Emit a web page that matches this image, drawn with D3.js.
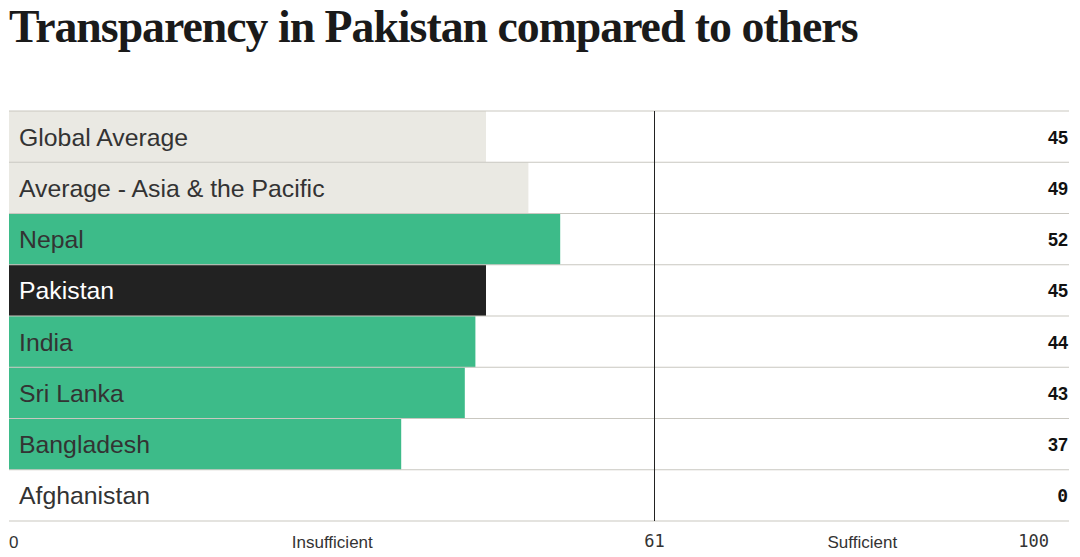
<!DOCTYPE html>
<html>
<head>
<meta charset="utf-8">
<script src="https://cdn.jsdelivr.net/npm/d3@7"></script>
<style>
  html, body { margin: 0; padding: 0; background: #fff; }
  svg { display: block; }
</style>
</head>
<body>
<svg id="chart" width="1080" height="557"></svg>
<script>
const categories = ["Global Average", "Average - Asia & the Pacific", "Nepal", "Pakistan", "India", "Sri Lanka", "Bangladesh", "Afghanistan"];
const values = [45, 49, 52, 45, 44, 43, 37, 0];
const kinds = ["average", "average", "country", "highlight", "country", "country", "country", "country"];
const threshold = 61;
const axisTicks = [0, 61, 100];
const zoneLabels = [{text: "Insufficient", from: 0, to: 61}, {text: "Sufficient", from: 61, to: 100}];
const title = "Transparency in Pakistan compared to others";

const colors = { average: "#eae9e3", country: "#3dbb89", highlight: "#222222" };
const textColors = { average: "#333333", country: "#333333", highlight: "#ffffff" };

const svg = d3.select("#chart");

const x = d3.scaleLinear().domain([0, 100]).range([9, 1069]);
const y = d3.scaleBand().domain(categories).range([111, 521]).padding(0);

// Title
const t = svg.append("text")
  .attr("x", 9).attr("y", 42)
  .attr("font-family", "Liberation Serif, DejaVu Serif, serif")
  .attr("font-weight", "bold")
  .attr("font-size", 46)
  .attr("letter-spacing", -1)
  .attr("fill", "#1a1a1a")
  .text(title);
const tw = t.node().getComputedTextLength();
t.attr("font-size", 46 * 849 / tw);

const rows = svg.append("g");
const data = categories.map((c, i) => ({ c, v: values[i], k: kinds[i] }));

// Bars
rows.selectAll("rect.bar").data(data).join("rect")
  .attr("class", "bar")
  .attr("x", x(0))
  .attr("y", d => y(d.c))
  .attr("width", d => x(d.v) - x(0))
  .attr("height", y.bandwidth())
  .attr("fill", d => colors[d.k]);

// Row separators
const lineYs = categories.map(c => y(c)).concat([y.range()[1]]);
svg.append("g").selectAll("line").data(lineYs).join("line")
  .attr("x1", x(0)).attr("x2", x(100))
  .attr("y1", d => d).attr("y2", d => d)
  .attr("stroke", "#c9c7c0").attr("stroke-width", 1.2);

// Threshold line
const tx = Math.floor(x(threshold)) - 0.5;
svg.append("line")
  .attr("x1", tx).attr("x2", tx)
  .attr("y1", y.range()[0]).attr("y2", y.range()[1])
  .attr("stroke", "#222").attr("stroke-width", 1);

// Category labels
rows.selectAll("text.lab").data(data).join("text")
  .attr("class", "lab")
  .attr("x", 19)
  .attr("y", d => y(d.c) + y.bandwidth() / 2 + 9)
  .attr("font-family", "Liberation Sans, Arial, sans-serif")
  .attr("font-size", 24.8)
  .attr("fill", d => textColors[d.k])
  .text(d => d.c);

// Value labels
rows.selectAll("text.val").data(data).join("text")
  .attr("class", "val")
  .attr("x", x(100) - 1)
  .attr("y", d => y(d.c) + y.bandwidth() / 2 + 7)
  .attr("text-anchor", "end")
  .attr("font-family", d => d.v === 0 ? "DejaVu Sans Mono, monospace" : "Liberation Sans, Arial, sans-serif")
  .attr("font-weight", "bold")
  .attr("font-size", 18)
  .attr("fill", "#111")
  .text(d => d.v);

// Bottom axis labels
const axisG = svg.append("g");
axisG.append("text")
  .attr("x", x(axisTicks[0])).attr("y", 548)
  .attr("font-family", "Liberation Sans, Arial, sans-serif")
  .attr("font-size", 17).attr("fill", "#333")
  .text(axisTicks[0]);
axisG.append("text")
  .attr("x", tx).attr("y", 547)
  .attr("text-anchor", "middle")
  .attr("font-family", "DejaVu Sans Mono, monospace")
  .attr("font-size", 17).attr("fill", "#333")
  .text(axisTicks[1]);
axisG.append("text")
  .attr("x", x(axisTicks[2]) - 20).attr("y", 547)
  .attr("text-anchor", "end")
  .attr("font-family", "DejaVu Sans Mono, monospace")
  .attr("font-size", 17).attr("fill", "#333")
  .text(axisTicks[2]);
axisG.selectAll("text.zone").data(zoneLabels).join("text")
  .attr("class", "zone")
  .attr("x", d => x((d.from + d.to) / 2))
  .attr("y", 548)
  .attr("text-anchor", "middle")
  .attr("font-family", "Liberation Sans, Arial, sans-serif")
  .attr("font-size", 17).attr("fill", "#333")
  .text(d => d.text);
</script>
</body>
</html>
